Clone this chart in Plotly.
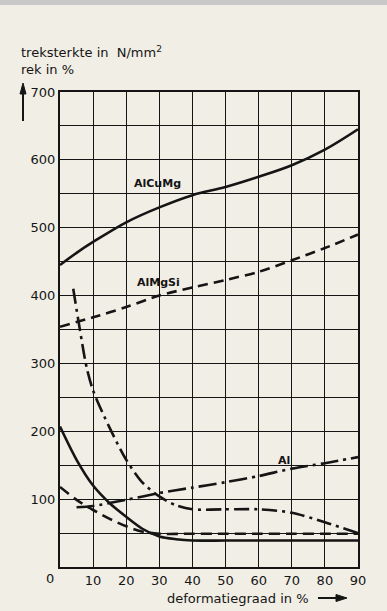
import plotly.graph_objects as go

# ---- data ----
x_alcumg = [0, 5, 10, 20, 30, 40, 50, 60, 70, 80, 90]
y_alcumg = [445, 463, 479, 508, 530, 548, 560, 575, 592, 615, 645]

x_almgsi = [0, 10, 20, 30, 40, 50, 60, 70, 80, 90]
y_almgsi = [354, 368, 383, 400, 412, 423, 435, 452, 470, 490]

x_al = [5, 10, 20, 30, 40, 50, 60, 70, 80, 90]
y_al = [88, 90, 99, 109, 117, 125, 134, 145, 153, 162]

x_rek_dashdot = [4, 6, 8, 10, 15, 20, 25, 30, 35, 40, 50, 60, 70, 80, 90]
y_rek_dashdot = [410, 350, 295, 260, 205, 158, 124, 104, 91, 85, 85, 85, 80, 66, 50]

x_rek_solid = [0, 5, 10, 15, 20, 25, 30, 35, 40, 50, 60, 70, 80, 90]
y_rek_solid = [207, 158, 120, 94, 74, 56, 45, 41, 39, 39, 39, 39, 39, 39]

x_rek_dash = [0, 5, 10, 15, 20, 25, 30, 40, 50, 60, 70, 80, 90]
y_rek_dash = [118, 99, 84, 71, 60, 52, 49, 49, 49, 49, 49, 49, 49]

x_ticks = [10, 20, 30, 40, 50, 60, 70, 80, 90]
y_ticks = [100, 200, 300, 400, 500, 600, 700]

INK = "#151515"
BG = "#f1eee5"
FONT = "DejaVu Sans"

# plot-area geometry in page pixels (for placing free text / arrows)
L, R, T, B = 60, 358, 92, 567
W, H = R - L, B - T


def px(xp):
    return (xp - L) / W


def py(yp):
    return (B - yp) / H


fig = go.Figure()


def add(x, y, dash, smoothing=0.8):
    fig.add_trace(go.Scatter(x=x, y=y, mode="lines",
                             line=dict(color=INK, width=2.6, dash=dash, shape="spline", smoothing=smoothing),
                             hoverinfo="skip", showlegend=False))


add(x_alcumg, y_alcumg, "solid", 1.0)
add(x_almgsi, y_almgsi, "10px,6px")
add(x_al, y_al, "18px,5px,3px,5px")
add(x_rek_dashdot, y_rek_dashdot, "15px,5px,3px,5px")
add(x_rek_solid, y_rek_solid, "solid")
add(x_rek_dash, y_rek_dash, "11px,6px")

fig.update_layout(
    width=387, height=611,
    margin=dict(l=L, r=387 - R, t=T, b=611 - B),
    paper_bgcolor=BG, plot_bgcolor=BG,
    font=dict(family=FONT, color=INK, size=13),
    showlegend=False,
)

fig.update_xaxes(range=[0, 90], tickvals=x_ticks,
                 showgrid=True, gridcolor=INK, gridwidth=1.3,
                 showline=True, linecolor=INK, linewidth=2, mirror=True,
                 ticks="", zeroline=False, tickfont=dict(size=13, family=FONT))
fig.update_yaxes(range=[0, 700], tickvals=y_ticks,
                 showgrid=True, gridcolor=INK, gridwidth=1.3,
                 minor=dict(dtick=50, showgrid=True, gridcolor=INK, gridwidth=1.3),
                 showline=True, linecolor=INK, linewidth=2, mirror=True,
                 ticks="", zeroline=False, tickfont=dict(size=13, family=FONT))

# gray strip at top of scan
fig.add_shape(type="rect", xref="paper", yref="paper", x0=px(-5), x1=px(400),
              y0=py(5), y1=py(-5), fillcolor="#c8c8c8", line=dict(width=0), layer="below")

# arrow along x title
fig.add_shape(type="line", xref="paper", yref="paper", x0=px(318), x1=px(338),
              y0=py(598), y1=py(598), line=dict(color=INK, width=2))
fig.add_shape(type="path", xref="paper", yref="paper",
              path=f"M {px(336)},{py(594.5)} L {px(347)},{py(598)} L {px(336)},{py(601.5)} Z",
              fillcolor=INK, line=dict(color=INK, width=1))
# arrow up along y
fig.add_shape(type="line", xref="paper", yref="paper", x0=px(23), x1=px(23),
              y0=py(121), y1=py(92), line=dict(color=INK, width=2))
fig.add_shape(type="path", xref="paper", yref="paper",
              path=f"M {px(20)},{py(94)} L {px(23)},{py(83)} L {px(26)},{py(94)} Z",
              fillcolor=INK, line=dict(color=INK, width=1))

ann = []
ann.append(dict(text="treksterkte in  N/mm<sup>2</sup>", x=px(19), y=py(52),
                xanchor="left", yanchor="middle", font=dict(size=13)))
ann.append(dict(text="rek in %", x=px(19), y=py(69),
                xanchor="left", yanchor="middle", font=dict(size=13)))
ann.append(dict(text="0", x=px(50), y=py(578),
                xanchor="center", yanchor="middle", font=dict(size=13)))
ann.append(dict(text="deformatiegraad in %", x=px(165), y=py(598),
                xanchor="left", yanchor="middle", font=dict(size=13)))
ann.append(dict(text="<b>AlCuMg</b>", x=px(157), y=py(183),
                xanchor="center", yanchor="middle", font=dict(size=11)))
ann.append(dict(text="<b>AlMgSi</b>", x=px(158), y=py(282),
                xanchor="center", yanchor="middle", font=dict(size=11)))
ann.append(dict(text="<b>Al</b>", x=px(284), y=py(460),
                xanchor="center", yanchor="middle", font=dict(size=11)))
for a in ann:
    a.update(xref="paper", yref="paper", showarrow=False)
fig.update_layout(annotations=ann)

fig.write_html("out.html", config={"displayModeBar": False},
               post_script="document.body.style.margin='0';document.body.style.backgroundColor='#f1eee5';")
